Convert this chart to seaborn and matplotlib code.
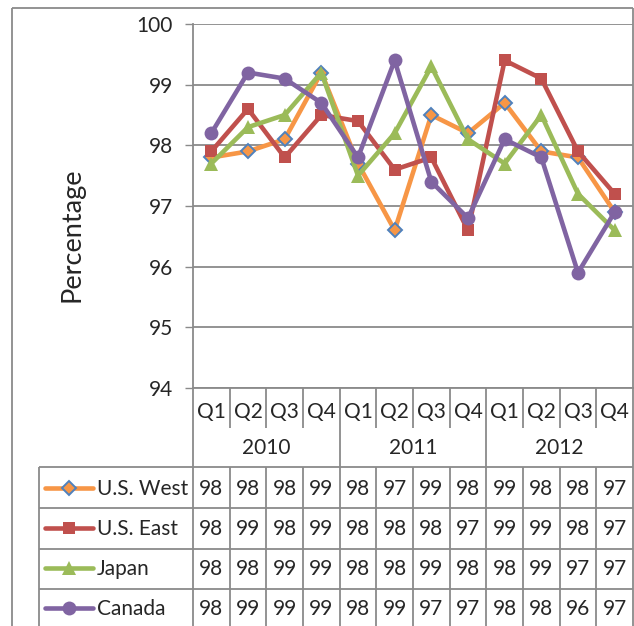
import numpy as np
import pandas as pd
import matplotlib
matplotlib.use("Agg")
import matplotlib.pyplot as plt
import seaborn as sns

# ---- data -------------------------------------------------------------
quarters = ["Q1", "Q2", "Q3", "Q4"] * 3
years = ["2010", "2011", "2012"]
series_names = ["U.S. West", "U.S. East", "Japan", "Canada"]

us_west = [97.8, 97.9, 98.1, 99.2, 97.7, 96.6, 98.5, 98.2, 98.7, 97.9, 97.8, 96.9]
us_east = [97.9, 98.6, 97.8, 98.5, 98.4, 97.6, 97.8, 96.6, 99.4, 99.1, 97.9, 97.2]
japan = [97.7, 98.3, 98.5, 99.2, 97.5, 98.2, 99.3, 98.1, 97.7, 98.5, 97.2, 96.6]
canada = [98.2, 99.2, 99.1, 98.7, 97.8, 99.4, 97.4, 96.8, 98.1, 97.8, 95.9, 96.9]

y_ticks = [94, 95, 96, 97, 98, 99, 100]

# ---- styling ----------------------------------------------------------
sns.set_theme(style="white")
plt.rcParams["font.family"] = ["Lato", "DejaVu Sans"]

styles = {
    "U.S. West": dict(color="#F79646", marker="D", ms=7.5, mfc="#F79646", mec="#4F81BD", mew=1.4),
    "U.S. East": dict(color="#C0504D", marker="s", ms=8, mfc="#C0504D", mec="#C0504D", mew=0),
    "Japan": dict(color="#9BBB59", marker="^", ms=10.5, mfc="#9BBB59", mec="#9BBB59", mew=0),
    "Canada": dict(color="#8064A2", marker="o", ms=10, mfc="#8064A2", mec="#8064A2", mew=0),
}
values = {"U.S. West": us_west, "U.S. East": us_east, "Japan": japan, "Canada": canada}

rows = []
for name in series_names:
    for i, v in enumerate(values[name]):
        rows.append({"period": i, "series": name, "value": v})
df = pd.DataFrame(rows)

W, H = 634, 626
fig = plt.figure(figsize=(W / 100, H / 100), dpi=100)
fig.patch.set_facecolor("white")

# plot area in pixel geometry
px_left, px_right, px_top, px_bottom = 193, 633, 24, 388
ax = fig.add_axes([px_left / W, 1 - px_bottom / H,
                   (px_right - px_left) / W, (px_bottom - px_top) / H])

grid_c = "#8A8A8A"
lw = 3.3
fs = 15
for name in series_names:
    st = styles[name]
    sub = df[df["series"] == name]
    sns.lineplot(data=sub, x="period", y="value", ax=ax, color=st["color"],
                 linewidth=lw, marker=st["marker"], markersize=st["ms"],
                 markerfacecolor=st["mfc"], markeredgecolor=st["mec"],
                 markeredgewidth=st["mew"], legend=False, zorder=3)

ax.set_xlim(-0.5, 11.5)
ax.set_ylim(94, 100)
ax.set_yticks(y_ticks)
ax.set_yticklabels([str(t) for t in y_ticks], fontsize=fs)
ax.yaxis.grid(True, color=grid_c, linewidth=1.3)
ax.xaxis.grid(False)
ax.set_xticks(range(12))
ax.set_xticklabels(quarters, fontsize=fs)
ax.tick_params(axis="x", length=0, pad=10)
ax.tick_params(axis="y", direction="out", length=5.8, width=1.0, color=grid_c,
               pad=8.5, left=True)
ax.set_xlabel("")
ax.set_ylabel("")
for s in ["top", "right"]:
    ax.spines[s].set_visible(False)
for s in ["left", "bottom"]:
    ax.spines[s].set_color(grid_c)
    ax.spines[s].set_linewidth(1.3)

# ---- overlay in pixel coordinates for frame and data table ------------
ov = fig.add_axes([0, 0, 1, 1], zorder=5)
ov.set_xlim(0, W)
ov.set_ylim(H, 0)
ov.axis("off")

line_kw = dict(color=grid_c, linewidth=1.3, solid_capstyle="butt")

# outer chart frame
ov.plot([12, 12], [8, H + 2], **line_kw)
ov.plot([12, 633], [8, 8], **line_kw)
ov.plot([633, 633], [8, H + 2], **line_kw)

ov.text(72, 235, "Percentage", rotation=90, ha="center", va="center", fontsize=19.5)

col_w = (px_right - px_left) / 12
xs = [px_left + k * col_w for k in range(13)]

q_row_bottom = 428
table_top = 467
row_lines = [467, 508, 549, 589]
row_centers = [488, 528, 568, 608]
legend_left = 39

# separators in the quarter/year header rows
for k in range(1, 12):
    bottom = table_top if k in (4, 8) else q_row_bottom
    ov.plot([xs[k], xs[k]], [px_bottom, bottom], **line_kw)
ov.plot([xs[0], xs[0]], [px_bottom, H + 2], **line_kw)

for j, yr in enumerate(years):
    cx = (xs[4 * j] + xs[4 * j + 4]) / 2
    ov.text(cx, 448, yr, ha="center", va="center", fontsize=fs)

# data table grid
for y in row_lines:
    ov.plot([legend_left, px_right], [y, y], **line_kw)
ov.plot([legend_left, legend_left], [table_top, H + 2], **line_kw)
for k in range(1, 12):
    ov.plot([xs[k], xs[k]], [table_top, H + 2], **line_kw)


def table_round(v):
    return int(np.floor(v + 0.5 + 1e-9))


for r, name in enumerate(series_names):
    st = styles[name]
    cy = row_centers[r]
    ov.plot([45, 93], [cy, cy], color=st["color"], linewidth=lw,
            solid_capstyle="round")
    ov.plot([69], [cy], marker=st["marker"], markersize=st["ms"],
            markerfacecolor=st["mfc"], markeredgecolor=st["mec"],
            markeredgewidth=st["mew"], linestyle="none")
    ov.text(97, cy + 1, name, ha="left", va="center", fontsize=fs)
    for i, v in enumerate(values[name]):
        ov.text((xs[i] + xs[i + 1]) / 2, cy + 1, str(table_round(v)),
                ha="center", va="center", fontsize=fs)

fig.savefig("out.png", dpi=100, facecolor="white")
